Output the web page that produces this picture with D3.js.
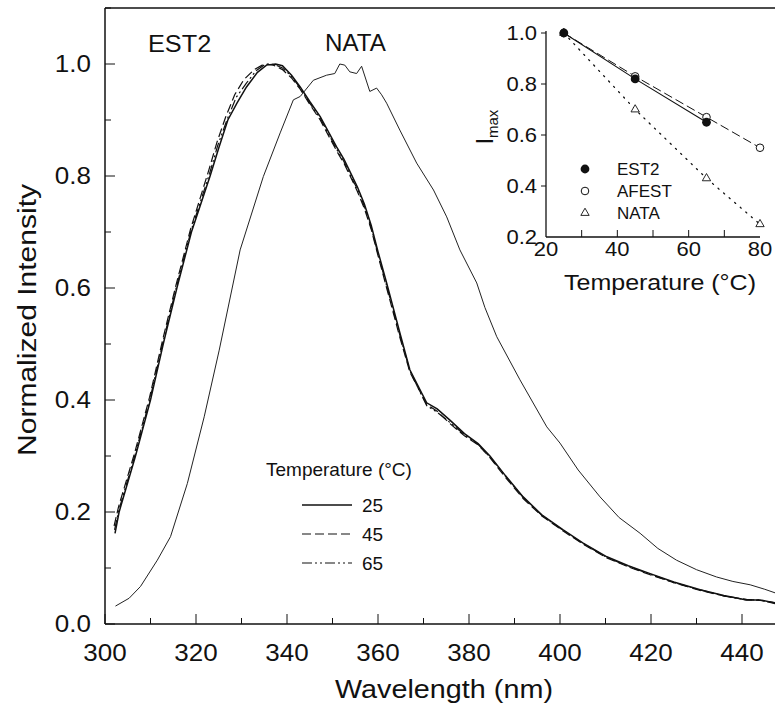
<!DOCTYPE html>
<html><head><meta charset="utf-8">
<script src="https://cdn.jsdelivr.net/npm/d3@7"></script>
<style>body{margin:0;background:#fff}svg{display:block}text{font-family:"Liberation Sans",Arial,sans-serif;fill:#111}</style>
</head><body><svg id="c" width="775" height="713"></svg>
<script>
// ---------- data (main spectra) ----------
const est2_25 = [[302.2,0.162],[303.1,0.2],[306.7,0.3],[310.0,0.4],[312.8,0.5],[315.8,0.6],[319.0,0.7],[323.1,0.8],[325.0,0.85],[327.0,0.9],[329.0,0.93],[331.1,0.959],[333.5,0.985],[335.5,0.998],[337.5,1.0],[339.0,0.997],[341.0,0.98],[342.9,0.959],[345.0,0.933],[347.3,0.906],[350.9,0.852],[352.5,0.83],[354.0,0.805],[355.5,0.78],[357.0,0.75],[358.5,0.712],[360.0,0.665],[361.9,0.609],[364.8,0.52],[367.0,0.454],[370.7,0.395],[373.0,0.384],[375.8,0.364],[379.0,0.34],[382.0,0.322],[384.6,0.3],[388.0,0.265],[391.9,0.227],[396.0,0.195],[400.7,0.168],[405.0,0.145],[410.3,0.12],[415.0,0.104],[419.8,0.09],[425.0,0.075],[430.8,0.061],[436.0,0.051],[441.0,0.043],[444.0,0.043],[447.5,0.037]];
const est2_45 = [[302.0,0.175],[303.0,0.21],[306.5,0.305],[309.8,0.405],[312.6,0.505],[315.6,0.605],[318.8,0.705],[322.8,0.81],[324.6,0.86],[326.5,0.905],[328.5,0.945],[330.5,0.972],[332.8,0.99],[335.0,1.0],[337.0,0.998],[339.0,0.99],[341.0,0.975],[342.9,0.955],[345.0,0.928],[347.3,0.9],[350.9,0.845],[352.5,0.823],[354.0,0.798],[355.5,0.772],[357.0,0.742],[358.5,0.705],[360.0,0.658],[361.9,0.6],[364.8,0.512],[367.0,0.45],[370.7,0.392],[373.0,0.38],[375.8,0.358],[379.0,0.336],[382.0,0.32],[384.6,0.297],[388.0,0.262],[391.9,0.224],[396.0,0.193],[400.7,0.166],[405.0,0.143],[410.3,0.118],[415.0,0.102],[419.8,0.088],[425.0,0.074],[430.8,0.06],[436.0,0.05],[441.0,0.044],[444.0,0.042],[447.5,0.038]];
const est2_65 = [[302.1,0.168],[303.1,0.205],[306.6,0.302],[309.9,0.402],[312.7,0.502],[315.7,0.602],[318.9,0.702],[323.0,0.805],[324.8,0.855],[326.8,0.9],[328.8,0.94],[331.0,0.965],[333.2,0.988],[335.3,1.0],[337.2,0.999],[339.0,0.993],[341.0,0.978],[342.9,0.957],[345.0,0.93],[347.3,0.903],[350.9,0.848],[352.5,0.826],[354.0,0.8],[355.5,0.776],[357.0,0.746],[358.5,0.708],[360.0,0.661],[361.9,0.604],[364.8,0.516],[367.0,0.452],[370.7,0.39],[373.0,0.378],[375.8,0.36],[379.0,0.338],[382.0,0.321],[384.6,0.298],[388.0,0.264],[391.9,0.226],[396.0,0.194],[400.7,0.167],[405.0,0.144],[410.3,0.119],[415.0,0.103],[419.8,0.089],[425.0,0.074],[430.8,0.061],[436.0,0.05],[441.0,0.043],[444.0,0.043],[447.5,0.036]];
const nata = [[302.3,0.032],[305.3,0.046],[307.8,0.067],[311.5,0.114],[314.4,0.156],[318.1,0.251],[321.8,0.37],[325.1,0.489],[329.7,0.668],[334.8,0.799],[338.5,0.877],[341.4,0.936],[342.9,0.942],[345.8,0.971],[348.7,0.98],[350.5,0.983],[351.6,1.0],[352.7,0.998],[353.8,0.986],[355.3,0.983],[356.4,0.996],[358.2,0.951],[359.7,0.957],[360.8,0.945],[361.9,0.93],[364.8,0.882],[368.5,0.823],[372.2,0.775],[375.1,0.727],[378.0,0.668],[381.7,0.609],[383.5,0.565],[386.1,0.513],[391.2,0.436],[397.1,0.352],[400.0,0.323],[404.0,0.275],[408.8,0.227],[413.0,0.19],[417.6,0.162],[421.5,0.135],[425.6,0.114],[430.0,0.097],[434.4,0.084],[438.0,0.076],[441.8,0.07],[445.0,0.062],[447.5,0.055]];
const xTicks = [300,320,340,360,380,400,420,440];
const yTicks = [0,0.2,0.4,0.6,0.8,1.0];
const legendTemps = ["25","45","65"];

// ---------- data (inset) ----------
const temps = [25,45,65,80];
const imaxEST2 = [1.0,0.82,0.65,null];
const imaxAFEST = [1.0,0.83,0.67,0.55];
const imaxNATA = [1.0,0.70,0.43,0.25];
const insetXTicks = [20,40,60,80];
const insetYTicks = [0.2,0.4,0.6,0.8,1.0];

const svg = d3.select("#c");
const x = d3.scaleLinear([300,450],[105,105+150*4.55]);
const y = d3.scaleLinear([0,1.1],[624,624-1.1*560]);

// widen glyphs horizontally (reference font is wider than Arial)
function stretch(sel, f){ sel.each(function(){ const L=this.getComputedTextLength(); d3.select(this).attr("textLength",L*f).attr("lengthAdjust","spacingAndGlyphs"); }); return sel; }
function stretchTo(sel, L){ sel.attr("textLength",L).attr("lengthAdjust","spacingAndGlyphs"); return sel; }

// frame
svg.append("line").attr("x1",105).attr("x2",775).attr("y1",y(1.1)).attr("y2",y(1.1)).attr("stroke","#111").attr("stroke-width",1.3);
svg.append("line").attr("x1",105).attr("x2",775).attr("y1",y(0)).attr("y2",y(0)).attr("stroke","#111").attr("stroke-width",1.5);
svg.append("line").attr("x1",105).attr("x2",105).attr("y1",y(1.1)).attr("y2",y(0)).attr("stroke","#111").attr("stroke-width",1.5);

// ticks
const xMinor = d3.range(300,451,10), yMinor = d3.range(0,1.101,0.1);
svg.selectAll(".xt").data(xMinor).join("line").attr("x1",d=>x(d)).attr("x2",d=>x(d))
  .attr("y1",y(0)).attr("y2",d=>y(0)-(d%20===0?10:6)).attr("stroke","#111").attr("stroke-width",1);
svg.selectAll(".yt").data(yMinor).join("line").attr("y1",d=>y(d)).attr("y2",d=>y(d))
  .attr("x1",105).attr("x2",d=>105+(Math.round(d*10)%2===0?10:6)).attr("stroke","#111").attr("stroke-width",1);
stretch(svg.selectAll(".xl").data(xTicks).join("text").attr("x",d=>x(d)).attr("y",661).attr("text-anchor","middle")
  .attr("font-size",23).text(d=>d),1.13);
stretch(svg.selectAll(".yl").data(yTicks).join("text").attr("x",91).attr("y",d=>y(d)).attr("dy","0.36em").attr("text-anchor","end")
  .attr("font-size",23).text(d=>d.toFixed(1)),1.13);
stretchTo(svg.append("text").attr("x",444).attr("y",698).attr("text-anchor","middle").attr("font-size",26).text("Wavelength (nm)"),218);
stretchTo(svg.append("text").attr("transform","translate(36,320) rotate(-90)").attr("text-anchor","middle").attr("font-size",26).text("Normalized Intensity"),272);

// curves
const line = d3.line().x(d=>x(d[0])).y(d=>y(d[1]));
svg.append("path").datum(nata).attr("d",line).attr("fill","none").attr("stroke","#222").attr("stroke-width",1);
svg.append("path").datum(est2_65).attr("d",line).attr("fill","none").attr("stroke","#111").attr("stroke-width",1.2).attr("stroke-dasharray","10,3,2,3,2,3");
svg.append("path").datum(est2_45).attr("d",line).attr("fill","none").attr("stroke","#111").attr("stroke-width",1.2).attr("stroke-dasharray","9,4");
svg.append("path").datum(est2_25).attr("d",line).attr("fill","none").attr("stroke","#111").attr("stroke-width",1.5);

stretch(svg.append("text").attr("x",148).attr("y",52).attr("font-size",23).text("EST2"),1.1);
stretch(svg.append("text").attr("x",325).attr("y",51).attr("font-size",23).text("NATA"),1.05);

// legend
svg.append("text").attr("x",266).attr("y",476).attr("font-size",19).text("Temperature (°C)");
const dashes = [null,"9,4","10,3,2,3,2,3"];
legendTemps.forEach((t,i)=>{
  const yy = 505+i*29;
  svg.append("line").attr("x1",302).attr("x2",352).attr("y1",yy).attr("y2",yy).attr("stroke","#111")
    .attr("stroke-width",i===0?1.5:1.2).attr("stroke-dasharray",dashes[i]);
  svg.append("text").attr("x",362).attr("y",yy).attr("dy","0.36em").attr("font-size",19).text(t);
});

// ---------- inset ----------
const xi = d3.scaleLinear([20,80],[546,760]);
const yi = d3.scaleLinear([0.2,1.0],[237,33]);
const g = svg.append("g");
g.append("line").attr("x1",xi(20)).attr("x2",xi(20)).attr("y1",yi(1.0)-2).attr("y2",yi(0.2)).attr("stroke","#111").attr("stroke-width",1.3);
g.append("line").attr("x1",xi(20)).attr("x2",xi(80)).attr("y1",yi(0.2)).attr("y2",yi(0.2)).attr("stroke","#111").attr("stroke-width",1.3);
g.selectAll(".ixt").data([30,40,50,60,70]).join("line").attr("x1",d=>xi(d)).attr("x2",d=>xi(d))
  .attr("y1",yi(0.2)).attr("y2",yi(0.2)-7).attr("stroke","#111");
g.selectAll(".iyt").data([0.4,0.6,0.8,1.0]).join("line").attr("y1",d=>yi(d)).attr("y2",d=>yi(d))
  .attr("x1",xi(20)-5).attr("x2",xi(20)).attr("stroke","#111");
stretch(g.selectAll(".ixl").data(insetXTicks).join("text").attr("x",d=>xi(d)).attr("y",256).attr("text-anchor","middle").attr("font-size",20).text(d=>d),1.1);
stretch(g.selectAll(".iyl").data(insetYTicks).join("text").attr("x",537).attr("y",d=>yi(d)).attr("dy","0.36em").attr("text-anchor","end").attr("font-size",20).text(d=>d.toFixed(1)),1.1);
stretchTo(g.append("text").attr("x",660).attr("y",290).attr("text-anchor","middle").attr("font-size",22).text("Temperature (°C)"),192);
const im = g.append("text").attr("transform","translate(493,127) rotate(-90)").attr("text-anchor","middle").attr("font-size",23);
im.append("tspan").text("I");
im.append("tspan").attr("font-size",15).attr("dy",5).text("max");

const pts = (arr)=>temps.map((t,i)=>[t,arr[i]]).filter(d=>d[1]!==null);
const il = d3.line().x(d=>xi(d[0])).y(d=>yi(d[1]));
g.append("path").datum(pts(imaxNATA)).attr("d",il).attr("fill","none").attr("stroke","#111").attr("stroke-width",1.3).attr("stroke-dasharray","1.3,6").attr("stroke-linecap","round");
g.append("path").datum(pts(imaxAFEST)).attr("d",il).attr("fill","none").attr("stroke","#111").attr("stroke-width",1).attr("stroke-dasharray","9,4");
g.append("path").datum(pts(imaxEST2)).attr("d",il).attr("fill","none").attr("stroke","#111").attr("stroke-width",1.1);
const tri = d3.symbol().type(d3.symbolTriangle).size(30);
g.selectAll(".tn").data(pts(imaxNATA)).join("path").attr("d",tri).attr("transform",d=>`translate(${xi(d[0])},${yi(d[1])})`).attr("fill","#fff").attr("stroke","#111").attr("stroke-width",0.9);
g.selectAll(".ca").data(pts(imaxAFEST)).join("circle").attr("cx",d=>xi(d[0])).attr("cy",d=>yi(d[1])).attr("r",3.8).attr("fill","#fff").attr("stroke","#111").attr("stroke-width",1);
g.selectAll(".ce").data(pts(imaxEST2)).join("circle").attr("cx",d=>xi(d[0])).attr("cy",d=>yi(d[1])).attr("r",4.4).attr("fill","#111");

// inset legend
const leg = [["EST2","fill"],["AFEST","open"],["NATA","tri"]];
leg.forEach((l,i)=>{
  const yy = 169+i*22;
  if(l[1]==="fill") g.append("circle").attr("cx",585).attr("cy",yy).attr("r",4.4).attr("fill","#111");
  else if(l[1]==="open") g.append("circle").attr("cx",585).attr("cy",yy).attr("r",3.8).attr("fill","#fff").attr("stroke","#111");
  else g.append("path").attr("d",tri).attr("transform",`translate(585,${yy})`).attr("fill","#fff").attr("stroke","#111").attr("stroke-width",0.9);
  g.append("text").attr("x",617).attr("y",yy).attr("dy","0.36em").attr("font-size",17).text(l[0]);
});
</script></body></html>
